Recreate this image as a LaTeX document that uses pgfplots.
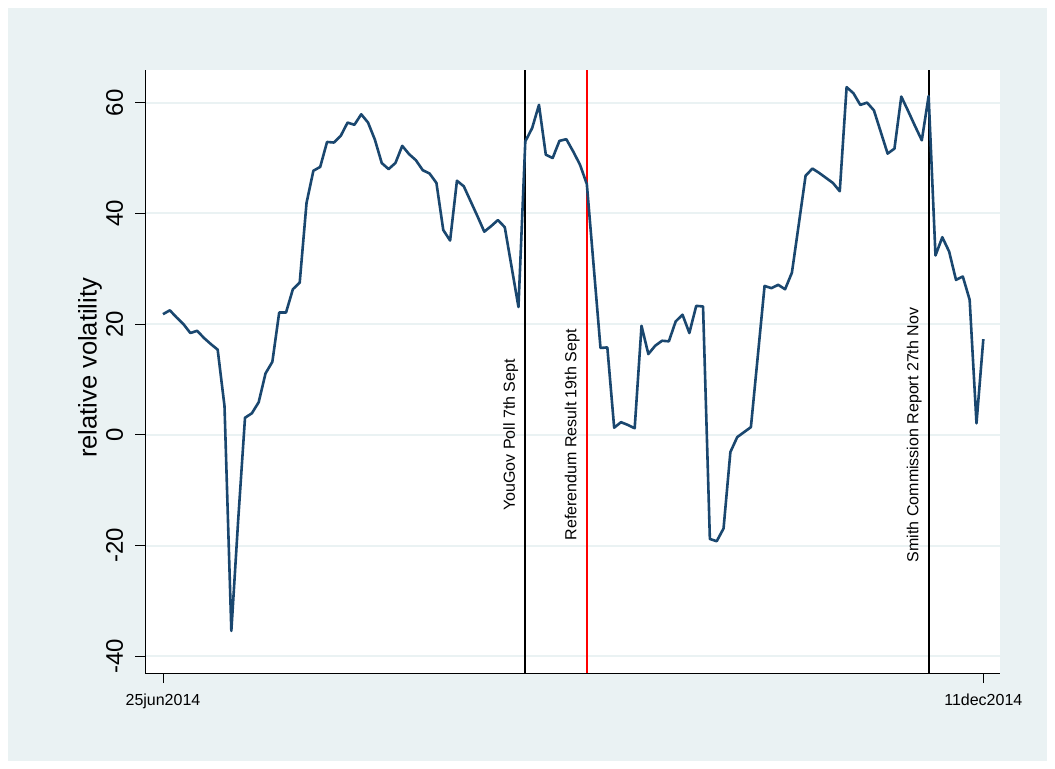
\documentclass[border=0pt]{standalone}
\usepackage{fontspec}
\setmainfont{Liberation Sans}
\usepackage{pgfplots}
\usepackage{pgfplotstable}
\pgfplotsset{compat=1.18}
\definecolor{bgc}{RGB}{234,242,243}
\definecolor{navy}{RGB}{26,71,111}
\definecolor{grd}{RGB}{234,242,243}

\pgfplotstableread{
idx val
0 21.8
1 22.5
2 21.2
3 20.0
4 18.4
5 18.8
6 17.5
7 16.4
8 15.4
9 5.2
10 -35.4
11 -15.4
12 3.1
13 3.9
14 5.9
15 11.1
16 13.2
17 22.1
18 22.1
19 26.3
20 27.5
21 41.9
22 47.7
23 48.4
24 52.9
25 52.8
26 54.0
27 56.4
28 56.0
29 57.9
30 56.4
31 53.3
32 49.1
33 48.0
34 49.1
35 52.2
36 50.7
37 49.6
38 47.8
39 47.2
40 45.5
41 37.0
42 35.1
43 45.9
44 44.9
45 42.2
46 39.5
47 36.7
48 37.7
49 38.8
50 37.5
51 30.3
52 23.1
53 53.0
54 55.4
55 59.6
56 50.6
57 50.0
58 53.1
59 53.4
60 51.2
61 48.8
62 45.3
63 30.5
64 15.7
65 15.8
66 1.3
67 2.3
68 1.8
69 1.2
70 19.7
71 14.6
72 16.1
73 17.0
74 16.9
75 20.5
76 21.7
77 18.4
78 23.3
79 23.2
80 -18.8
81 -19.2
82 -16.9
83 -3.1
84 -0.4
85 0.5
86 1.4
87 14.1
88 26.9
89 26.5
90 27.1
91 26.3
92 29.3
93 38.0
94 46.8
95 48.1
96 47.3
97 46.4
98 45.5
99 44.0
100 62.8
101 61.7
102 59.6
103 60.0
104 58.6
105 54.7
106 50.8
107 51.7
108 61.1
109 58.5
110 55.8
111 53.2
112 61.2
113 32.4
114 35.7
115 33.1
116 28.0
117 28.6
118 24.4
119 2.1
120 17.3
}\voldata

\begin{document}
\begin{tikzpicture}
\fill[white] (0bp,0bp) rectangle (1055bp,769bp);
\fill[bgc] (8bp,8bp) rectangle (1047bp,761bp);
\begin{axis}[
 at={(145bp,96bp)}, anchor=south west,
 scale only axis, width=855bp, height=603bp,
 xmin=-2.63, xmax=122.44, ymin=-43.0, ymax=65.9,
 axis x line*=bottom, axis y line*=left,
 axis line style={black, line width=0.9bp},
 axis background/.style={fill=white},
 xtick={0,120}, xticklabels={25jun2014,11dec2014},
 ytick={-40,-20,0,20,40,60},
 tick align=outside, major tick length=10bp,
 tick style={black, line width=0.9bp},
 ymajorgrids, grid style={grd, line width=2bp},
 /pgf/number format/assume math mode=true,
 yticklabel style={rotate=90, anchor=south, inner sep=0pt, font=\fontsize{24bp}{28bp}\selectfont},
 yticklabel shift=11.7bp,
 xticklabel style={anchor=north, inner sep=0pt, font=\fontsize{16bp}{19bp}\selectfont},
 xticklabel shift=10.3bp,
 ylabel={relative volatility},
 every axis y label/.style={at={(axis description cs:-0.0567,0.506)}, rotate=90, anchor=base, font=\fontsize{25.5bp}{30bp}\selectfont},
]
\addplot[black, line width=2bp] coordinates {(53,-43) (53,65.9)};
\addplot[red, line width=2bp] coordinates {(62,-43) (62,65.9)};
\addplot[black, line width=2bp] coordinates {(112,-43) (112,65.9)};
\addplot[navy, line width=2.6bp, line join=round] table[x=idx, y=val] {\voldata};
\node[rotate=90, anchor=base, font=\fontsize{16bp}{19bp}\selectfont] at (axis cs:51.48,0) {YouGov Poll 7th Sept};
\node[rotate=90, anchor=base, font=\fontsize{16bp}{19bp}\selectfont] at (axis cs:60.48,0) {Referendum Result 19th Sept};
\node[rotate=90, anchor=base, font=\fontsize{16bp}{19bp}\selectfont] at (axis cs:110.48,0) {Smith Commission Report 27th Nov};
\end{axis}
\end{tikzpicture}
\end{document}
